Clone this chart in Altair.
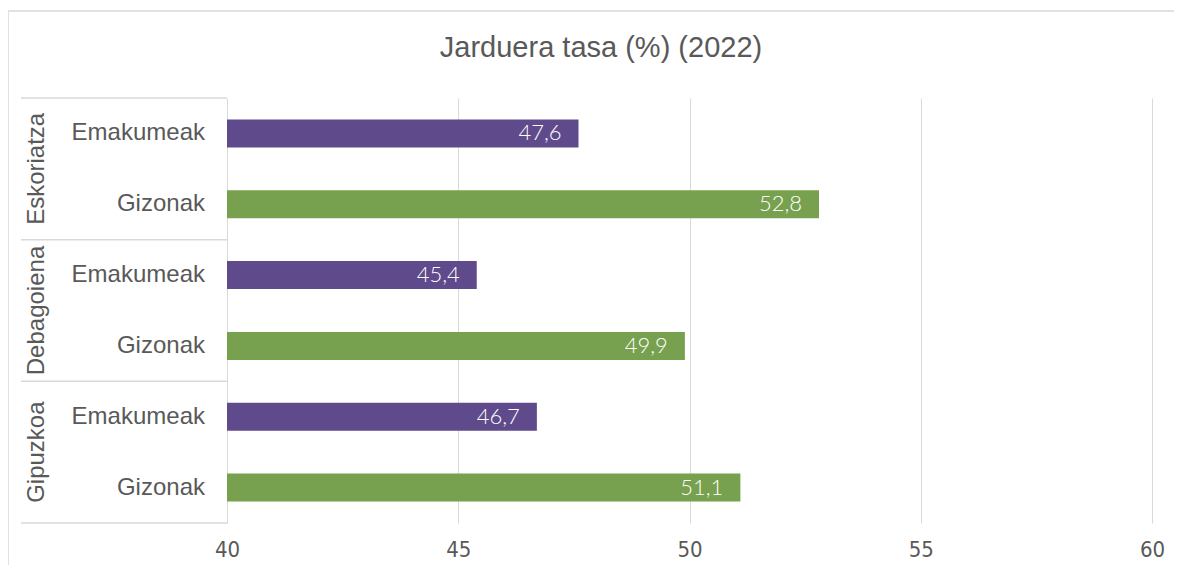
import altair as alt
import pandas as pd

title_text = ["Jarduera tasa (%) (2022)"]
groups = ["Eskoriatza", "Eskoriatza", "Debagoiena", "Debagoiena", "Gipuzkoa", "Gipuzkoa"]
sexes = ["Emakumeak", "Gizonak", "Emakumeak", "Gizonak", "Emakumeak", "Gizonak"]
values = [47.6, 52.8, 45.4, 49.9, 46.7, 51.1]
group_names = ["Eskoriatza", "Debagoiena", "Gipuzkoa"]
x_ticks = [40, 45, 50, 55, 60]

keys = [f"{g}|{s}" for g, s in zip(groups, sexes)]
df = pd.DataFrame({"group": groups, "sex": sexes, "value": values, "key": keys,
                   "label": [f"{v:.1f}".replace(".", ",") for v in values]})

first_keys = [f"{g}|Emakumeak" for g in group_names]
gdf = pd.DataFrame({"group": group_names, "key": first_keys})
bottom_df = pd.DataFrame({"key": [keys[-1]]})
one = pd.DataFrame({"a": [0]})
tdf = pd.DataFrame({"t": title_text})

TXT = "#595959"
GRID = "#D9D9D9"
FONT = "Liberation Sans"

yscale = alt.Scale(domain=keys, paddingInner=0, paddingOuter=0)
xscale = alt.Scale(domain=[40, 60], nice=False, zero=False)

bars = alt.Chart(df).mark_bar(size=28).encode(
    y=alt.Y("key:N", scale=yscale, sort=keys,
            axis=alt.Axis(labels=False, ticks=False, title=None, grid=False,
                          domainColor=GRID, domainWidth=1)),
    x=alt.X("value:Q", scale=xscale,
            axis=alt.Axis(values=x_ticks, title=None, ticks=False, domain=False,
                          gridColor=GRID, gridWidth=1, labelColor=TXT,
                          labelFont="'DejaVu Sans Condensed', 'Liberation Sans'",
                          labelFontSize=22, labelPadding=16, labelFlush=False)),
    x2=alt.datum(40),
    color=alt.Color("sex:N", scale=alt.Scale(domain=["Emakumeak", "Gizonak"],
                                             range=["#5F4A8B", "#77A04F"]),
                    legend=None),
)

labels = alt.Chart(df).mark_text(align="right", baseline="middle", dx=-17,
                                 color="white", font="Lato", fontWeight=300,
                                 fontSize=22).encode(
    y=alt.Y("key:N", scale=yscale, sort=keys, axis=None),
    x=alt.X("value:Q", scale=xscale),
    text="label:N",
)

cat_text = alt.Chart(df).mark_text(align="right", baseline="middle", font=FONT,
                                   fontSize=24, color=TXT).encode(
    y=alt.Y("key:N", scale=yscale, sort=keys, axis=None),
    x=alt.value(-22),
    text="sex:N",
)

grp_text = alt.Chart(gdf).mark_text(align="center", baseline="middle", angle=270,
                                    font=FONT, fontSize=24, color=TXT).encode(
    y=alt.Y("key:N", scale=yscale, sort=keys, axis=None, bandPosition=1),
    x=alt.value(-190),
    text="group:N",
)

sep_rules = alt.Chart(gdf).mark_rule(color=GRID, strokeWidth=1.5).encode(
    y=alt.Y("key:N", scale=yscale, sort=keys, axis=None, bandPosition=0),
    x=alt.value(-206), x2=alt.value(0),
)
bottom_rule = alt.Chart(bottom_df).mark_rule(color=GRID, strokeWidth=1.5).encode(
    y=alt.Y("key:N", scale=yscale, sort=keys, axis=None, bandPosition=1),
    x=alt.value(-206), x2=alt.value(0),
)

frame_top = alt.Chart(one).mark_rule(color=GRID, strokeWidth=1.5).encode(
    x=alt.value(-219), x2=alt.value(1000), y=alt.value(-87))
frame_left = alt.Chart(one).mark_rule(color=GRID, strokeWidth=1.5).encode(
    x=alt.value(-219), y=alt.value(-87), y2=alt.value(480))

title = alt.Chart(tdf).mark_text(align="center", baseline="middle", font=FONT,
                                 fontSize=29, color=TXT).encode(
    x=alt.value(374), y=alt.value(-50), text="t:N")

chart = alt.layer(frame_top, frame_left, sep_rules, bottom_rule, bars, labels,
                  cat_text, grp_text, title).properties(
    width=925, height=425,
    autosize=alt.AutoSizeParams(type="none"),
    padding={"left": 219, "top": 90, "right": 22, "bottom": 42},
).configure_view(stroke=None)

chart.save("out.html", embed_options={"renderer": "svg", "actions": False})
